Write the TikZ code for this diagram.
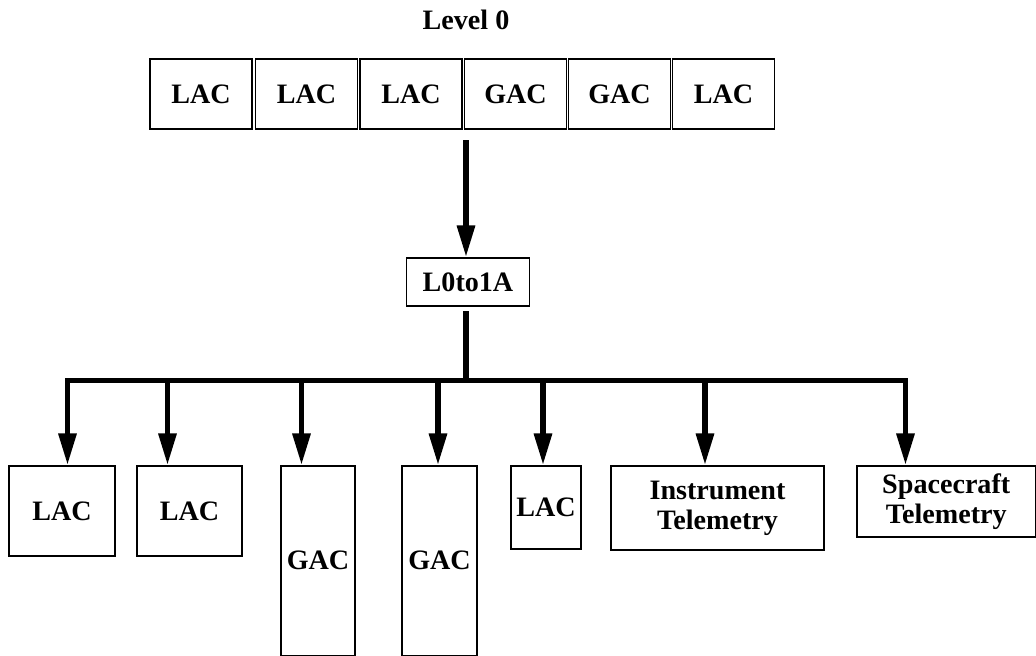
\documentclass[tikz,border=0pt]{standalone}
\usepackage{fontspec}
\setmainfont{Liberation Serif}
\usetikzlibrary{arrows.meta}
\tikzstyle{box edge} = [draw=black, line width=0.6pt]
\tikzstyle{thick arrow} = [line width=3.4pt, -{Triangle[length=0.64cm,width=0.34cm]}]
\tikzstyle{bus line} = [line width=3.4pt, line cap=rect]

\begin{document}
\begin{tikzpicture}
[x=0.02cm, y=-0.02cm,
boldtext/.style={font=\fontsize{16}{17}\selectfont\bfseries},
product/.style={box edge, inner sep=0pt, align=center, boldtext}]

\useasboundingbox (0,0) rectangle (1036,656);

%% level 0 row
\node[boldtext] (level) at (466,20) {Level 0};
\foreach \name/\x/\kind in {
t1/201/LAC, t2/306.5/LAC, t3/411/LAC, t4/515.5/GAC, t5/619.5/GAC, t6/723.5/LAC}
{
\node (\name) at (\x,94) [product, minimum width=2.04cm, minimum height=1.4cm] {\kind};
}

%% processing step
\node (l0to1a) at (468,282) [product, minimum width=2.46cm, minimum height=0.96cm] {L0to1A};
\coordinate (top out) at (466,140);
\coordinate (hub) at (466,380.5);
\draw[thick arrow] (top out) -- (top out |- l0to1a.north);
\draw[line width=3.4pt, shorten <=0.09cm] (hub |- l0to1a.south) -- (hub);

%% level 1A products and their drops
\foreach \name/\x/\y/\w/\h/\kind/\drop in {
b1/62/511/106/90/LAC/67.5,
b2/189.5/511/105/90/LAC/167.5,
b3/318/560.75/74/189.5/GAC/301.5,
b4/439.5/560.75/75/189.5/GAC/438,
b5/546/507.5/70/83/LAC/543,
b6/717.5/508/213/84/{Instrument\\Telemetry}/705,
b7/946.25/501.5/178.5/71/{Spacecraft\\Telemetry}/905.5}
{
\node (\name) at (\x,\y) [product, minimum width={\w*0.02cm}, minimum height={\h*0.02cm}] {\kind};
\coordinate (d\name) at (\drop,380.5);
\draw[thick arrow] (d\name) -- (d\name |- \name.north);
}

%% bus
\draw[bus line] (db1) -- (db7);

\end{tikzpicture}
\end{document}
